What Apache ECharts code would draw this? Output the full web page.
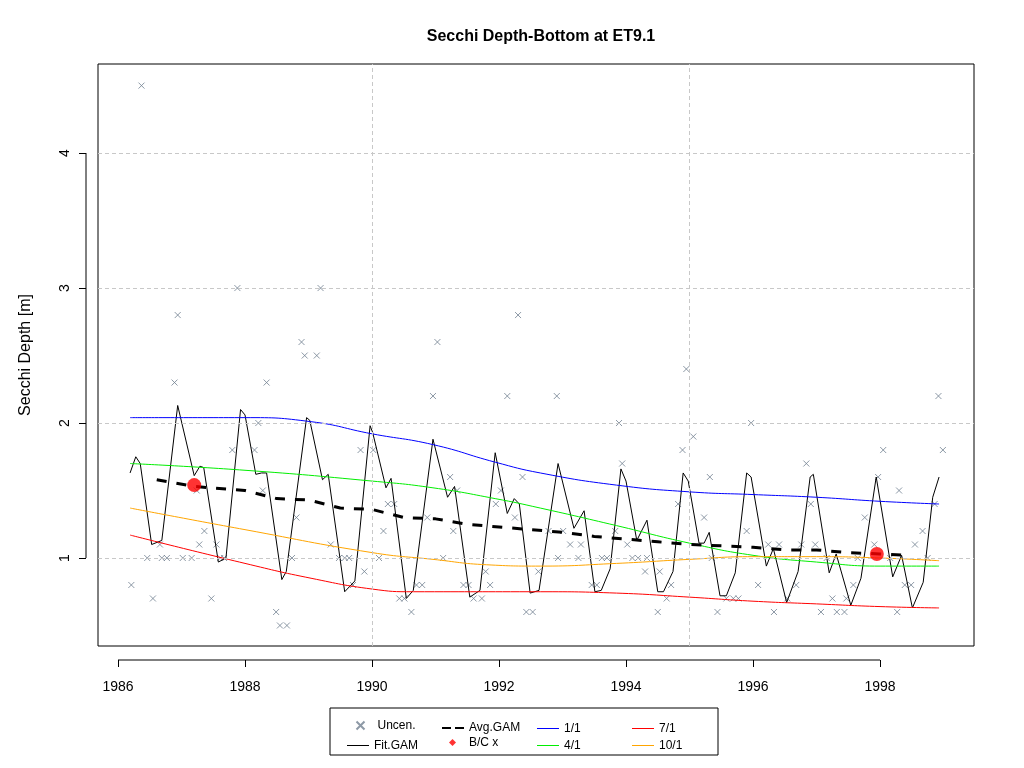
<!DOCTYPE html>
<html><head><meta charset="utf-8">
<script src="https://cdn.jsdelivr.net/npm/echarts@6/dist/echarts.min.js"></script>
<style>html,body{margin:0;background:#fff}#c{width:1024px;height:768px}</style>
</head><body><div id="c"></div>
<script>
const xTicks=[1986,1988,1990,1992,1994,1996,1998];
const yTicks=[1,2,3,4];
const uncen=[[1986.37,4.5],[1986.21,0.8],[1986.55,0.7],[1986.46,1.0],[1986.69,1.0],[1986.77,1.0],[1986.66,1.1],[1986.89,2.3],[1986.94,2.8],[1987.02,1.0],[1987.16,1.0],[1987.24,1.5],[1987.36,1.2],[1987.28,1.1],[1987.47,0.7],[1987.55,1.1],[1987.61,1.0],[1987.67,1.0],[1987.80,1.8],[1987.88,3.0],[1988.15,1.8],[1988.21,2.0],[1988.28,1.5],[1988.34,2.3],[1988.49,0.6],[1988.55,0.5],[1988.66,0.5],[1988.74,1.0],[1988.81,1.3],[1988.89,2.6],[1988.94,2.5],[1989.13,2.5],[1989.19,3.0],[1989.35,1.1],[1989.48,1.0],[1989.57,1.0],[1989.64,1.0],[1989.70,0.8],[1989.88,0.9],[1989.82,1.8],[1990.02,1.8],[1990.11,1.0],[1990.18,1.2],[1990.25,1.4],[1990.35,1.4],[1990.43,0.7],[1990.51,0.7],[1990.62,0.6],[1990.70,0.8],[1990.79,0.8],[1990.87,1.3],[1990.96,2.2],[1991.03,2.6],[1991.12,1.0],[1991.23,1.6],[1991.28,1.2],[1991.34,1.5],[1991.44,0.8],[1991.52,0.8],[1991.60,0.7],[1991.73,0.7],[1991.79,0.9],[1991.86,0.8],[1991.95,1.4],[1992.03,1.5],[1992.13,2.2],[1992.25,1.3],[1992.30,2.8],[1992.37,1.6],[1992.43,0.6],[1992.53,0.6],[1992.62,0.9],[1992.78,1.2],[1992.91,2.2],[1992.93,1.0],[1993.01,1.2],[1993.12,1.1],[1993.29,1.1],[1993.25,1.0],[1993.46,0.8],[1993.54,0.8],[1993.62,1.0],[1993.70,1.0],[1993.89,2.0],[1993.94,1.7],[1993.83,1.2],[1994.02,1.1],[1994.10,1.0],[1994.19,1.0],[1994.33,1.0],[1994.30,0.9],[1994.53,0.9],[1994.50,0.6],[1994.64,0.7],[1994.71,0.8],[1994.82,1.4],[1994.89,1.8],[1994.95,2.4],[1995.06,1.9],[1995.23,1.3],[1995.32,1.6],[1995.35,1.0],[1995.44,0.6],[1995.58,0.7],[1995.69,0.7],[1995.77,0.7],[1995.90,1.2],[1995.97,2.0],[1996.08,0.8],[1996.24,1.1],[1996.41,1.1],[1996.33,0.6],[1996.68,0.8],[1996.54,0.7],[1996.76,1.1],[1996.84,1.7],[1996.91,1.4],[1996.98,1.1],[1997.07,0.6],[1997.32,0.6],[1997.44,0.6],[1997.25,0.7],[1997.47,0.7],[1997.16,1.0],[1997.58,0.8],[1997.65,1.0],[1997.76,1.3],[1997.91,1.1],[1997.97,1.6],[1998.05,1.8],[1998.16,1.0],[1998.27,0.6],[1998.30,1.5],[1998.39,0.8],[1998.49,0.8],[1998.55,1.1],[1998.67,1.2],[1998.75,1.0],[1998.86,1.4],[1998.92,2.2],[1998.99,1.8]];
const fitGam=[[1986.19,1.63],[1986.28,1.75],[1986.35,1.70],[1986.53,1.10],[1986.69,1.13],[1986.94,2.13],[1987.20,1.61],[1987.29,1.68],[1987.35,1.67],[1987.58,0.97],[1987.70,1.0],[1987.93,2.10],[1988.0,2.06],[1988.17,1.62],[1988.26,1.63],[1988.34,1.63],[1988.58,0.84],[1988.65,0.90],[1988.97,2.04],[1989.02,2.02],[1989.22,1.58],[1989.31,1.62],[1989.57,0.75],[1989.73,0.83],[1989.97,1.98],[1990.01,1.93],[1990.22,1.52],[1990.30,1.59],[1990.54,0.70],[1990.65,0.76],[1990.96,1.88],[1991.19,1.45],[1991.30,1.53],[1991.54,0.71],[1991.70,0.76],[1991.94,1.78],[1992.13,1.33],[1992.24,1.44],[1992.32,1.40],[1992.49,0.74],[1992.63,0.76],[1992.93,1.70],[1993.18,1.22],[1993.34,1.35],[1993.51,0.75],[1993.61,0.76],[1993.75,0.92],[1993.92,1.66],[1994.0,1.57],[1994.17,1.13],[1994.33,1.28],[1994.50,0.75],[1994.59,0.75],[1994.74,0.90],[1994.90,1.63],[1994.98,1.57],[1995.15,1.11],[1995.23,1.11],[1995.31,1.19],[1995.48,0.72],[1995.58,0.72],[1995.72,0.89],[1995.90,1.63],[1995.97,1.60],[1996.21,0.94],[1996.32,1.07],[1996.53,0.67],[1996.71,0.90],[1996.90,1.60],[1996.95,1.62],[1997.20,0.89],[1997.31,1.03],[1997.54,0.65],[1997.70,0.85],[1997.94,1.60],[1998.00,1.43],[1998.20,0.86],[1998.34,1.02],[1998.51,0.63],[1998.68,0.82],[1998.83,1.45],[1998.93,1.60]];
const avgGam=[[1986.61,1.58],[1987.2,1.53],[1988,1.50],[1988.5,1.44],[1989,1.43],[1989.5,1.37],[1990,1.36],[1990.5,1.30],[1991,1.29],[1991.5,1.25],[1992,1.23],[1992.5,1.21],[1993,1.19],[1993.5,1.16],[1994,1.14],[1994.5,1.12],[1995,1.10],[1995.5,1.09],[1996,1.08],[1996.5,1.06],[1997,1.06],[1997.5,1.04],[1998,1.03],[1998.4,1.02]];
const bcx=[[1987.2,1.54],[1997.95,1.03]];
const jan=[[1986.19,2.04],[1988.0,2.04],[1989.04,2.01],[1990.0,1.92],[1990.96,1.84],[1991.94,1.71],[1992.65,1.63],[1993.85,1.54],[1995.0,1.49],[1996.0,1.47],[1997.0,1.45],[1998.0,1.42],[1998.93,1.40]];
const apr=[[1986.19,1.70],[1988.0,1.65],[1990.0,1.57],[1990.96,1.52],[1991.94,1.44],[1992.65,1.37],[1993.85,1.24],[1995.0,1.11],[1996.0,1.02],[1997.0,0.97],[1998.0,0.94],[1998.93,0.94]];
const jul=[[1986.19,1.17],[1988.0,0.96],[1989.04,0.85],[1990.0,0.77],[1990.65,0.75],[1992.65,0.75],[1993.85,0.74],[1995.0,0.71],[1996.0,0.68],[1997.0,0.66],[1998.0,0.64],[1998.93,0.63]];
const oct=[[1986.19,1.37],[1988.0,1.21],[1990.0,1.04],[1990.96,0.99],[1991.8,0.95],[1992.65,0.94],[1993.85,0.96],[1995.0,0.99],[1996.0,1.01],[1997.0,1.01],[1998.0,1.00],[1998.93,0.98]];
const gridX=[1990,1995];
const legendRow1=['Uncen.','Avg.GAM','1/1','7/1'];
const legendRow2=['Fit.GAM','B/C x','4/1','10/1'];

const chart=echarts.init(document.getElementById('c'));
const F='Liberation Sans, Arial, sans-serif';
const line=(name,data,color,extra)=>Object.assign({name,type:'line',data,showSymbol:false,symbol:'none',lineStyle:{color,width:1},itemStyle:{color},z:3,silent:true,animation:false},extra||{});
const icons={'Uncen.':'path://M0,0L10,10M10,0L0,10','Fit.GAM':'path://M0,0H22V1H0Z','Avg.GAM':'path://M0,0H9V2H0ZM13,0H22V2H13Z','B/C x':'diamond','1/1':'path://M0,0H22V1H0Z','4/1':'path://M0,0H22V1H0Z','7/1':'path://M0,0H22V1H0Z','10/1':'path://M0,0H22V1H0Z'};
const colX=[342,437,532,627];
const legends=[];
[legendRow1,legendRow2].forEach((row,r)=>row.forEach((n,i)=>{
  const sz=n==='Uncen.'?[8,8]:n==='B/C x'?[7,7]:n==='Avg.GAM'?[22,2]:[22,1];
  legends.push({data:[{name:n,icon:icons[n]}],left:colX[i]+(n==='Uncen.'?7:n==='B/C x'?7:0),top:r?735-sz[1]/2:718-sz[1]/2,itemWidth:sz[0],itemHeight:sz[1],itemGap:0,
    selectedMode:false,textStyle:{fontFamily:F,fontSize:12,color:'#000',padding:[0,0,0,n==='Uncen.'||n==='B/C x'?8:0]}});
}));
chart.setOption({
  animation:false,
  title:{text:'Secchi Depth-Bottom at ET9.1',left:536,top:24,textAlign:'center',textStyle:{fontFamily:F,fontSize:16,fontWeight:'bold',color:'#000'}},
  grid:{left:98,right:50,top:64,bottom:122,show:true,borderColor:'#000',borderWidth:1},
  xAxis:{type:'value',min:1985.685,max:1999.48,axisLine:{show:false},splitLine:{show:false},
    axisTick:{show:true,customValues:xTicks,length:7,lineStyle:{color:'#000'}},
    axisLabel:{customValues:xTicks,formatter:v=>String(v),color:'#000',fontFamily:F,fontSize:14,margin:20},offset:14},
  yAxis:{type:'value',min:0.348,max:4.66,axisLine:{show:false},splitLine:{show:false},
    name:'Secchi Depth [m]',nameLocation:'middle',nameGap:52,nameTextStyle:{fontFamily:F,fontSize:16,color:'#000'},
    axisTick:{show:true,customValues:yTicks,length:7,lineStyle:{color:'#000'}},
    axisLabel:{customValues:yTicks,rotate:90,color:'#000',fontFamily:F,fontSize:14,margin:14},offset:12},
  legend:legends,
  graphic:[
    {type:'rect',shape:{x:330,y:708,width:388,height:47},style:{fill:'none',stroke:'#000',lineWidth:1}},
    {type:'line',shape:{x1:118,y1:660,x2:880,y2:660},style:{stroke:'#000',lineWidth:1}},
    {type:'line',shape:{x1:86,y1:558,x2:86,y2:153},style:{stroke:'#000',lineWidth:1}}
  ],
  series:[
    {name:'grid',type:'line',data:[],markLine:{silent:true,symbol:'none',label:{show:false},lineStyle:{color:'#c8c8c8',type:[4,3],width:1},
      data:gridX.map(v=>({xAxis:v})).concat(yTicks.map(v=>({yAxis:v})))}},
    {name:'Uncen.',type:'scatter',data:uncen,symbol:'path://M0,0L10,10M10,0L0,10',symbolSize:6,
      itemStyle:{color:'none',borderColor:'#708090',borderWidth:1},z:2},
    line('Fit.GAM',fitGam,'#000'),
    line('1/1',jan,'#0000ff',{smooth:true}),
    line('4/1',apr,'#00ee00',{smooth:true}),
    line('7/1',jul,'#ff0000',{smooth:true}),
    line('10/1',oct,'#ffa500',{smooth:true}),
    line('Avg.GAM',avgGam,'#000',{lineStyle:{color:'#000',width:3,type:[10,10]},z:4}),
    {name:'B/C x',type:'scatter',data:bcx,symbol:'circle',symbolSize:14,itemStyle:{color:'#ff0000'},z:5}
  ]
});
</script></body></html>
